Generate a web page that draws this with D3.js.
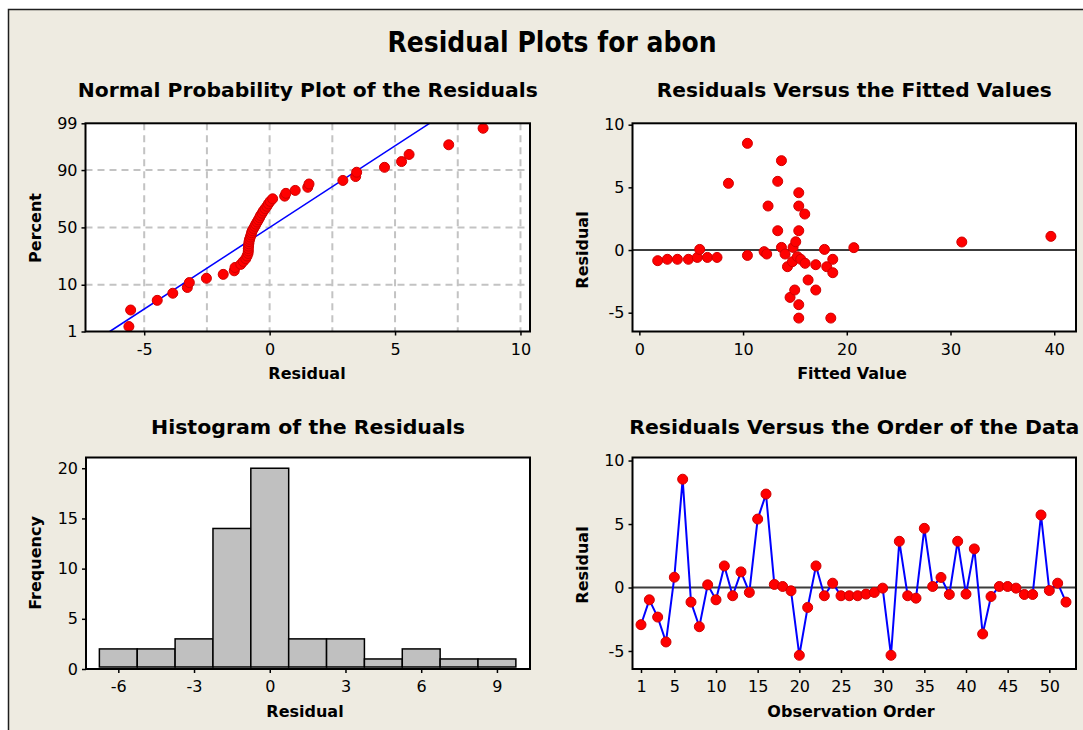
<!DOCTYPE html>
<html>
<head>
<meta charset="utf-8">
<script src="https://cdn.jsdelivr.net/npm/d3@7/dist/d3.min.js"></script>
<style>
  body { margin: 0; background: #ffffff; }
  svg text { font-family: "DejaVu Sans", Verdana, sans-serif; fill: #000; }
</style>
</head>
<body>
<div id="chart"></div>
<script>
// ---- data ----

// residuals in observation order (1..52)
var orderResiduals = [-2.93, -0.97, -2.33, -4.29, 0.81, 8.53, -1.15, -3.09, 0.21, -0.97,
  1.70, -0.65, 1.23, -0.39, 5.39, 7.36, 0.24, 0.08, -0.26, -5.34,
  -1.57, 1.70, -0.65, 0.34, -0.65, -0.65, -0.65, -0.52, -0.39, -0.05,
  -5.34, 3.64, -0.65, -0.84, 4.66, 0.08, 0.79, -0.55, 3.64, -0.52,
  3.04, -3.66, -0.71, 0.08, 0.08, -0.05, -0.55, -0.55, 5.71, -0.24,
  0.34, -1.15];

// sorted residuals as plotted on the normal probability plot
var normalResiduals = [-5.61, -5.54, -4.48, -3.86, -3.28, -3.20, -2.52, -1.85, -1.41, -1.38,
  -1.15, -1.05, -0.95, -0.90, -0.86, -0.85, -0.85, -0.84, -0.83, -0.82,
  -0.80, -0.77, -0.74, -0.72, -0.69, -0.64, -0.59, -0.55, -0.50, -0.45,
  -0.40, -0.36, -0.30, -0.25, -0.18, -0.11, -0.05, 0.02, 0.12, 0.60,
  0.65, 1.02, 1.52, 1.57, 2.92, 3.43, 3.47, 4.58, 5.26, 5.56,
  7.14, 8.51];

// fitted normal line (mean, standard deviation)
var fitMean = 0;
var fitSd = 2.74;

// residuals versus fitted values
var fittedValues = [1.77, 2.70, 3.67, 4.73, 5.59, 5.82, 6.56, 7.49, 8.59, 10.42,
  10.42, 12.03, 12.28, 12.41, 13.34, 13.34, 13.70, 13.70, 14.05, 14.28,
  14.53, 14.76, 14.82, 14.98, 15.08, 15.24, 15.37, 15.37, 15.37, 15.37,
  15.37, 15.56, 15.95, 15.98, 16.27, 17.01, 17.01, 17.85, 18.07, 18.46,
  18.65, 18.65, 20.68, 31.09, 39.68];
var fittedResiduals = [-0.85, -0.74, -0.74, -0.74, -0.59, 0.05, -0.59, -0.59, 5.32, 8.51,
  -0.43, -0.13, -0.32, 3.51, 5.48, 1.54, 7.13, 0.21, -0.32, -1.33,
  -3.78, -0.93, 0.21, -3.19, 0.66, -0.53, 4.57, 3.51, 1.54, -4.36,
  -5.43, -0.74, 2.87, -1.06, -2.39, -1.17, -3.19, 0.05, -1.33, -5.43,
  -0.74, -1.81, 0.19, 0.64, 1.09];

// histogram
var histBinEdges = [-6.75, -5.25, -3.75, -2.25, -0.75, 0.75, 2.25, 3.75, 5.25, 6.75, 8.25, 9.75];
var histCounts = [2, 2, 3, 14, 20, 3, 3, 1, 2, 1, 1];

// tick labels
var percentTicks = [1, 10, 50, 90, 99];
var percentGrid = [10, 50, 90];
var normalXTicks = [-5, 0, 5, 10];
var normalXGrid = [-5, -2.5, 0, 2.5, 5, 7.5, 10];
var fittedXTicks = [0, 10, 20, 30, 40];
var residualTicks = [-5, 0, 5, 10];
var histXTicks = [-6, -3, 0, 3, 6, 9];
var histYTicks = [0, 5, 10, 15, 20];
var orderXTicks = [1, 5, 10, 15, 20, 25, 30, 35, 40, 45, 50];

// ---- layout ----
var width = 1083;
var height = 730;
var panels = {
  normal: { left: 85.5, right: 530, top: 123.3, bottom: 331.5 },
  fitted: { left: 632.5, right: 1076, top: 123.3, bottom: 331.5 },
  hist:   { left: 86, right: 530, top: 457.5, bottom: 669 },
  order:  { left: 632.5, right: 1076, top: 457.5, bottom: 669 }
};
var red = "#ff0000";
var blue = "#0000ff";

// inverse of the standard normal CDF (Acklam)
function qnorm(p) {
  var a = [-3.969683028665376e+01, 2.209460984245205e+02, -2.759285104469687e+02, 1.383577518672690e+02, -3.066479806614716e+01, 2.506628277459239e+00];
  var b = [-5.447609879822406e+01, 1.615858368580409e+02, -1.556989798598866e+02, 6.680131188771972e+01, -1.328068155288572e+01];
  var c = [-7.784894002430293e-03, -3.223964580411365e-01, -2.400758277161838e+00, -2.549732539343734e+00, 4.374664141464968e+00, 2.938163982698783e+00];
  var d = [7.784695709041462e-03, 3.224671290700398e-01, 2.445134137142996e+00, 3.754408661907416e+00];
  var q, r;
  if (p < 0.02425) {
    q = Math.sqrt(-2 * Math.log(p));
    return (((((c[0] * q + c[1]) * q + c[2]) * q + c[3]) * q + c[4]) * q + c[5]) / ((((d[0] * q + d[1]) * q + d[2]) * q + d[3]) * q + 1);
  }
  if (p > 1 - 0.02425) {
    q = Math.sqrt(-2 * Math.log(1 - p));
    return -(((((c[0] * q + c[1]) * q + c[2]) * q + c[3]) * q + c[4]) * q + c[5]) / ((((d[0] * q + d[1]) * q + d[2]) * q + d[3]) * q + 1);
  }
  q = p - 0.5;
  r = q * q;
  return (((((a[0] * r + a[1]) * r + a[2]) * r + a[3]) * r + a[4]) * r + a[5]) * q / (((((b[0] * r + b[1]) * r + b[2]) * r + b[3]) * r + b[4]) * r + 1);
}

// plain hyphen-minus labels like the original
var plain = function (d) { return String(d); };

var svg = d3.select("#chart")
  .append("svg")
  .attr("width", width)
  .attr("height", height);

// beige outer frame (cropped on the right and bottom)
svg.append("rect")
  .attr("x", 8.5)
  .attr("y", 9.5)
  .attr("width", width + 20)
  .attr("height", height + 20)
  .attr("fill", "#eeebe1")
  .attr("stroke", "#1e1e1e")
  .attr("stroke-width", 1.5);

// main title
svg.append("text")
  .attr("x", 552)
  .attr("y", 52)
  .attr("text-anchor", "middle")
  .attr("textLength", 329)
  .attr("lengthAdjust", "spacingAndGlyphs")
  .style("font-size", "28px")
  .style("font-weight", "bold")
  .text("Residual Plots for abon");

// panel helpers
function panelBackground(p) {
  svg.append("rect")
    .attr("x", p.left).attr("y", p.top)
    .attr("width", p.right - p.left).attr("height", p.bottom - p.top)
    .attr("fill", "#ffffff");
}

function panelBorder(p) {
  svg.append("rect")
    .attr("x", p.left).attr("y", p.top)
    .attr("width", p.right - p.left).attr("height", p.bottom - p.top)
    .attr("fill", "none")
    .attr("stroke", "#000")
    .attr("stroke-width", 2);
}

function panelTitle(p, txt, y, len) {
  svg.append("text")
    .attr("x", (p.left + p.right) / 2)
    .attr("y", y)
    .attr("text-anchor", "middle")
    .attr("textLength", len)
    .attr("lengthAdjust", "spacingAndGlyphs")
    .style("font-size", "20px")
    .style("font-weight", "bold")
    .text(txt);
}

function xLabel(x, y, txt) {
  svg.append("text")
    .attr("x", x).attr("y", y)
    .attr("text-anchor", "middle")
    .style("font-size", "16px")
    .style("font-weight", "bold")
    .text(txt);
}

function yLabel(x, y, txt) {
  svg.append("text")
    .attr("transform", "translate(" + x + "," + y + ") rotate(-90)")
    .attr("text-anchor", "middle")
    .style("font-size", "16px")
    .style("font-weight", "bold")
    .text(txt);
}

function styleAxis(g) {
  g.select(".domain").remove();
  g.selectAll(".tick line").attr("stroke", "#000").attr("stroke-width", 1.5);
  g.selectAll(".tick text").style("font-size", "16px").style("font-family", "'DejaVu Sans', Verdana, sans-serif");
}

function addAxes(p, xScale, yScale, xTicks, yTicks, xFormat, yFormat) {
  var xa = d3.axisBottom(xScale).tickValues(xTicks).tickSize(4).tickPadding(8)
    .tickFormat(xFormat || plain);
  svg.append("g")
    .attr("transform", "translate(0," + p.bottom + ")")
    .call(xa)
    .call(styleAxis);

  var ya = d3.axisLeft(yScale).tickValues(yTicks).tickSize(4).tickPadding(4)
    .tickFormat(yFormat || plain);
  svg.append("g")
    .attr("transform", "translate(" + p.left + ",0)")
    .call(ya)
    .call(styleAxis);
}

function dots(xs, ys, xScale, yScale) {
  svg.append("g")
    .selectAll("circle")
    .data(xs)
    .enter().append("circle")
    .attr("cx", function (d) { return xScale(d); })
    .attr("cy", function (d, i) { return yScale(ys[i]); })
    .attr("r", 5)
    .attr("fill", red)
    .attr("stroke", "#d00000")
    .attr("stroke-width", 1);
}

// ---- Normal probability plot ----
var pn = panels.normal;
panelBackground(pn);
var xNorm = d3.scaleLinear().domain([-7.34, 10.38]).range([pn.left, pn.right]);
var zMin = qnorm(0.01), zMax = qnorm(0.99);
var yNorm = d3.scaleLinear().domain([zMin, zMax]).range([pn.bottom, pn.top]);

// dashed grid
svg.append("g")
  .selectAll("line")
  .data(normalXGrid)
  .enter().append("line")
  .attr("x1", function (d) { return xNorm(d); })
  .attr("x2", function (d) { return xNorm(d); })
  .attr("y1", pn.top).attr("y2", pn.bottom)
  .attr("stroke", "#c3c3c3").attr("stroke-width", 2).attr("stroke-dasharray", "7,5");
svg.append("g")
  .selectAll("line")
  .data(percentGrid)
  .enter().append("line")
  .attr("x1", pn.left).attr("x2", pn.right)
  .attr("y1", function (d) { return yNorm(qnorm(d / 100)); })
  .attr("y2", function (d) { return yNorm(qnorm(d / 100)); })
  .attr("stroke", "#c3c3c3").attr("stroke-width", 2).attr("stroke-dasharray", "7,5");

// fitted normal line
svg.append("path")
  .datum([zMin, zMax])
  .attr("fill", "none")
  .attr("stroke", blue)
  .attr("stroke-width", 1.5)
  .attr("d", d3.line()
    .x(function (z) { return xNorm(fitMean + fitSd * z); })
    .y(function (z) { return yNorm(z); }));

// plotting positions (median ranks)
var nN = normalResiduals.length;
var normalZ = normalResiduals.map(function (d, i) { return qnorm((i + 1 - 0.3) / (nN + 0.4)); });
dots(normalResiduals, normalZ, xNorm, yNorm);
panelBorder(pn);
addAxes(pn, xNorm, yNorm, normalXTicks, percentTicks.map(function (t) { return qnorm(t / 100); }),
  null, function (d, i) { return percentTicks[i]; });
panelTitle(pn, "Normal Probability Plot of the Residuals", 97, 460);
xLabel(307, 379, "Residual");
yLabel(41, 228, "Percent");

// ---- Residuals versus fitted values ----
var pf = panels.fitted;
panelBackground(pf);
var xFit = d3.scaleLinear().domain([-0.66, 42.1]).range([pf.left, pf.right]);
var yFit = d3.scaleLinear().domain([-6.5, 10.11]).range([pf.bottom, pf.top]);
svg.append("line")
  .attr("x1", pf.left).attr("x2", pf.right)
  .attr("y1", yFit(0)).attr("y2", yFit(0))
  .attr("stroke", "#3c3c3c").attr("stroke-width", 2);
dots(fittedValues, fittedResiduals, xFit, yFit);
panelBorder(pf);
addAxes(pf, xFit, yFit, fittedXTicks, residualTicks);
panelTitle(pf, "Residuals Versus the Fitted Values", 97, 395);
xLabel(852, 379, "Fitted Value");
yLabel(588, 250, "Residual");

// ---- Histogram ----
var ph = panels.hist;
panelBackground(ph);
var xHist = d3.scaleLinear().domain([-7.28, 10.31]).range([ph.left, ph.right]);
var yHist = d3.scaleLinear().domain([0, 21.07]).range([ph.bottom, ph.top]);
svg.append("g")
  .selectAll("rect")
  .data(histCounts)
  .enter().append("rect")
  .attr("x", function (d, i) { return xHist(histBinEdges[i]); })
  .attr("width", function (d, i) { return xHist(histBinEdges[i + 1]) - xHist(histBinEdges[i]); })
  .attr("y", function (d) { return yHist(d); })
  .attr("height", function (d) { return yHist(0) - yHist(d) - 2; })
  .attr("fill", "#c0c0c0")
  .attr("stroke", "#000")
  .attr("stroke-width", 1.5);
panelBorder(ph);
addAxes(ph, xHist, yHist, histXTicks, histYTicks);
panelTitle(ph, "Histogram of the Residuals", 434, 314);
xLabel(305, 717, "Residual");
yLabel(41, 563, "Frequency");

// ---- Residuals versus order ----
var po = panels.order;
panelBackground(po);
var xOrd = d3.scaleLinear().domain([-0.02, 53.2]).range([po.left, po.right]);
var yOrd = d3.scaleLinear().domain([-6.42, 10.24]).range([po.bottom, po.top]);
svg.append("line")
  .attr("x1", po.left).attr("x2", po.right)
  .attr("y1", yOrd(0)).attr("y2", yOrd(0))
  .attr("stroke", "#3c3c3c").attr("stroke-width", 2);
var orderIdx = orderResiduals.map(function (d, i) { return i + 1; });
svg.append("path")
  .datum(orderResiduals)
  .attr("fill", "none")
  .attr("stroke", blue)
  .attr("stroke-width", 2)
  .attr("d", d3.line()
    .x(function (d, i) { return xOrd(orderIdx[i]); })
    .y(function (d) { return yOrd(d); }));
dots(orderIdx, orderResiduals, xOrd, yOrd);
panelBorder(po);
addAxes(po, xOrd, yOrd, orderXTicks, residualTicks);
panelTitle(po, "Residuals Versus the Order of the Data", 434, 450);
xLabel(851, 717, "Observation Order");
yLabel(588, 565, "Residual");
</script>
</body>
</html>
